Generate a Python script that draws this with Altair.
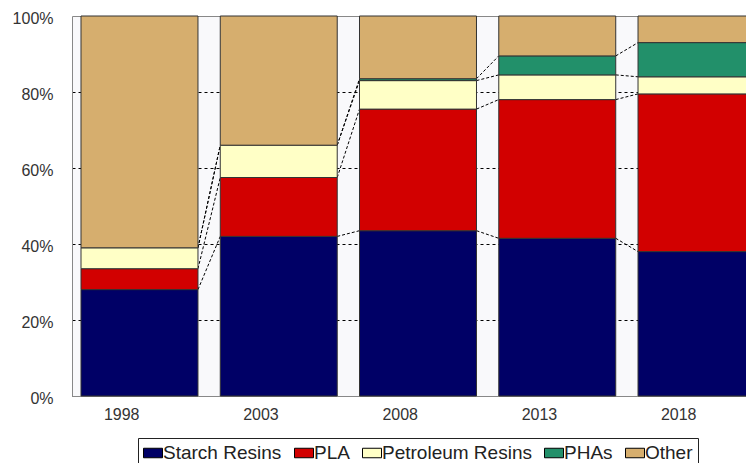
import altair as alt
import pandas as pd

years = ["1998", "2003", "2008", "2013", "2018"]
series = ["Starch Resins", "PLA", "Petroleum Resins", "PHAs", "Other"]
starch = [28, 42, 43.5, 41.5, 38]
pla = [5.5, 15.5, 32, 36.5, 41.5]
petroleum = [5.5, 8.5, 7.5, 6.5, 4.5]
phas = [0, 0, 0.5, 5, 9]
other = [61, 34, 16.5, 10.5, 7]
colors = ["#000066", "#d20000", "#ffffc6", "#22906a", "#d6ae6e"]

values = [starch, pla, petroleum, phas, other]

rows = []
for i, yr in enumerate(years):
    cum = 0
    for s, vals in zip(series, values):
        v = vals[i]
        rows.append(dict(year=yr, series=s, y0=cum, y1=cum + v, v=v))
        cum += v
bars_df = pd.DataFrame(rows)
bars_df = bars_df[bars_df["v"] > 0]

links = []
for k, s in enumerate(series[:-1]):
    for i in range(len(years) - 1):
        top_a = sum(values[j][i] for j in range(k + 1))
        top_b = sum(values[j][i + 1] for j in range(k + 1))
        links.append(dict(series=s, year=years[i], nxt=years[i + 1], ya=top_a, yb=top_b))
links_df = pd.DataFrame(links)

xscale = alt.Scale(domain=years, range=[0, 692], paddingInner=0.16, paddingOuter=0.0646)
yscale = alt.Scale(domain=[0, 100], nice=False)

axis_font = "Liberation Sans"

bars = alt.Chart(bars_df).mark_bar(stroke="#333333", strokeWidth=1).encode(
    x=alt.X("year:N", scale=xscale, sort=years,
            axis=alt.Axis(title=None, labelAngle=0, ticks=False, labelPadding=18,
                          domainColor="#888888", grid=False, labelFont=axis_font,
                          labelFontSize=16)),
    y=alt.Y("y0:Q", scale=yscale,
            axis=alt.Axis(title=None, values=[0, 20, 40, 60, 80, 100],
                          labelExpr="datum.value + '%'", ticks=False, labelPadding=19,
                          labelOffset=2,
                          domainColor="#888888", grid=True,
                          gridDash={"condition": {"test": "datum.value >= 100", "value": []},
                                    "value": [3, 3]},
                          gridColor={"condition": {"test": "datum.value >= 100", "value": "#888888"},
                                     "value": "black"},
                          gridOpacity=1, gridWidth=1, labelFont=axis_font,
                          labelFontSize=16)),
    y2="y1:Q",
    color=alt.Color("series:N", scale=alt.Scale(domain=series, range=colors),
                    legend=alt.Legend(title=None, orient="none", legendX=66, legendY=422,
                                      direction="horizontal", strokeColor="#222222",
                                      padding=5, symbolType="M-1,-0.5H1V0.5H-1Z",
                                      symbolSize=361,
                                      symbolStrokeColor="black", symbolStrokeWidth=1,
                                      labelFont="Liberation Sans",
                                      labelFontSize=19, labelColor="#222222",
                                      columnPadding=10, labelOffset=0, fillColor="white",
                                      labelLimit=300, cornerRadius=0)),
)

rules = alt.Chart(links_df).mark_rule(color="black", strokeDash=[3, 2], strokeWidth=1).encode(
    x=alt.X("year:N", scale=xscale, bandPosition=1),
    x2=alt.X2("nxt:N", bandPosition=0),
    y=alt.Y("ya:Q", scale=yscale),
    y2="yb:Q",
)

chart = alt.layer(rules, bars).properties(
    width=674, height=380,
    autosize=alt.AutoSizeParams(type="none"),
    padding={"left": 64, "top": 8, "right": 0, "bottom": 67},
    background="white",
).configure_view(
    stroke=None, fill="#f9f9fb"
).configure_axis(
    labelColor="#333333"
)

chart.save("out.html", embed_options={"renderer": "svg", "actions": False})
